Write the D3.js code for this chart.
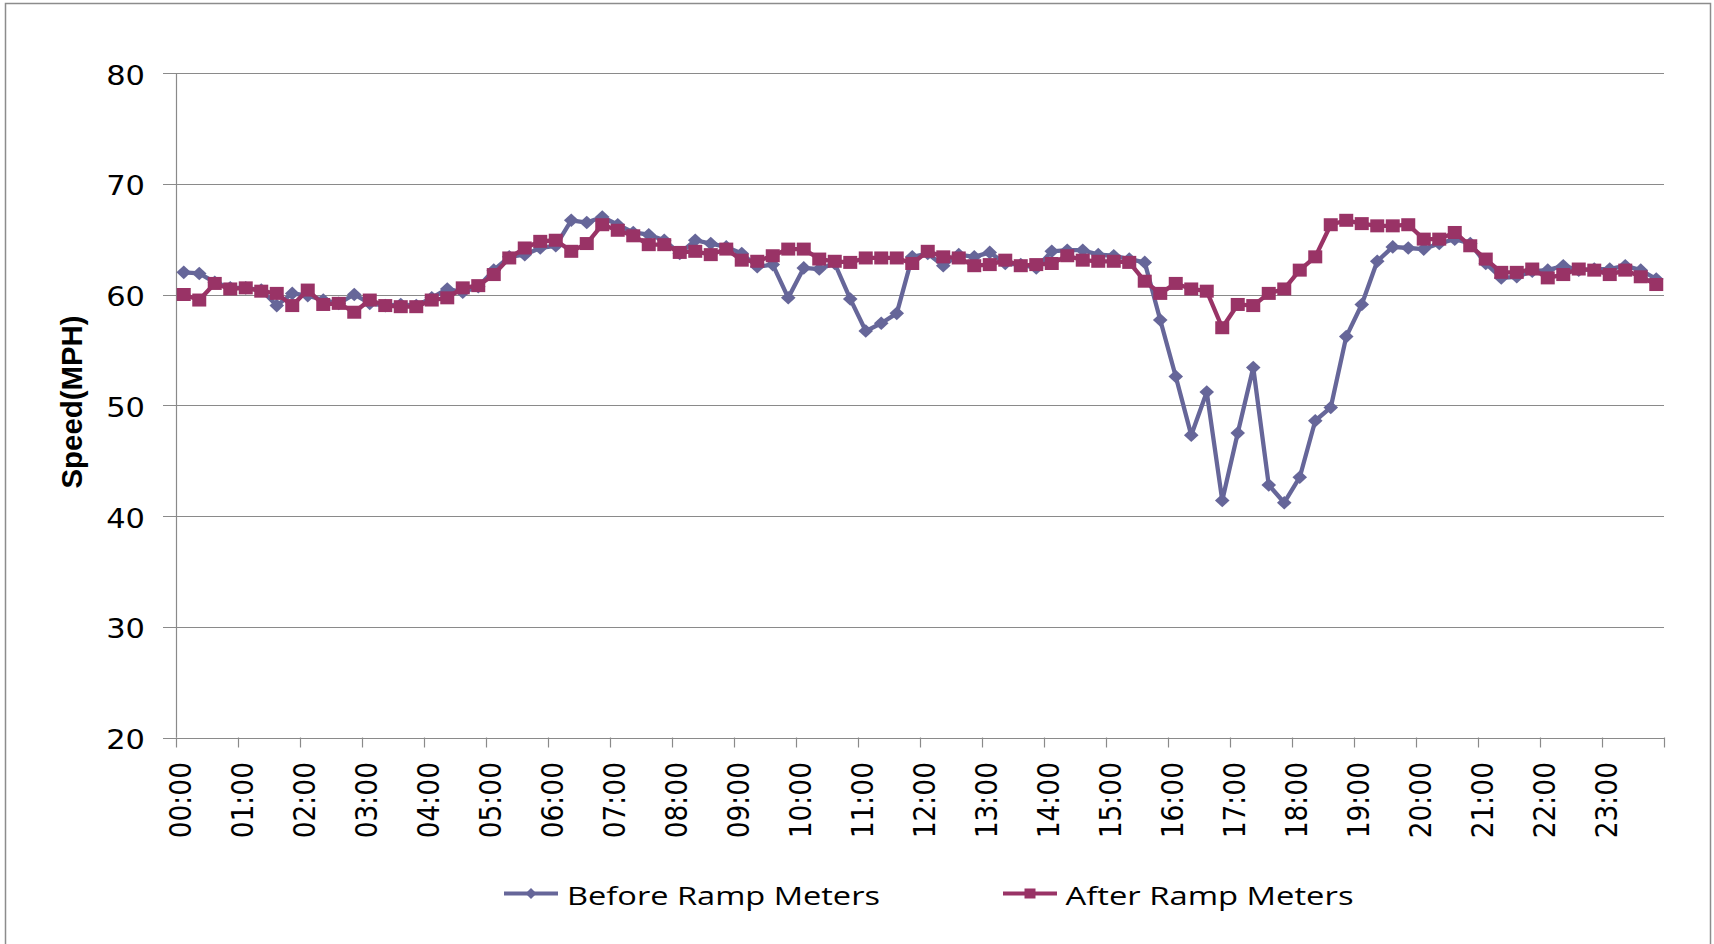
<!DOCTYPE html>
<html>
<head>
<meta charset="utf-8">
<script src="https://cdnjs.cloudflare.com/ajax/libs/d3/7.8.5/d3.min.js"></script>
<style>
  body { margin: 0; background: #fff; }
  svg { display: block; }
</style>
</head>
<body>
<div id="chart"></div>
<script>
var width = 1714;
var height = 944;

// hour labels shown on the axis, 15-minute categories built from them
var hourLabels = ['00','01','02','03','04','05','06','07','08','09','10','11',
                  '12','13','14','15','16','17','18','19','20','21','22','23'];
var quarterLabels = ['00','15','30','45'];
var yTicks = [20, 30, 40, 50, 60, 70, 80];

var beforeSpeed = [
  62.0, 61.9, 61.1, 60.6, 60.6, 60.4, 59.0, 60.1, 59.9, 59.5, 59.2, 60.0,
  59.2, 59.0, 59.1, 59.0, 59.7, 60.5, 60.2, 60.7, 62.2, 63.4, 63.6, 64.2,
  64.4, 66.7, 66.5, 67.0, 66.3, 65.6, 65.4, 64.9, 63.7, 64.9, 64.6, 64.3,
  63.7, 62.5, 62.7, 59.7, 62.4, 62.3, 62.8, 59.6, 56.7, 57.4, 58.3, 63.4,
  63.7, 62.6, 63.6, 63.4, 63.8, 62.8, 62.7, 62.4, 63.9, 64.0, 64.0, 63.6,
  63.5, 63.2, 62.9, 57.7, 52.6, 47.3, 51.2, 41.4, 47.5, 53.4, 42.8, 41.2,
  43.5, 48.6, 49.8, 56.2, 59.1, 63.0, 64.3, 64.2, 64.1, 64.6, 65.0, 64.6,
  62.8, 61.5, 61.6, 62.1, 62.2, 62.6, 62.2, 62.3, 62.3, 62.6, 62.2, 61.4
];

var afterSpeed = [
  60.0, 59.5, 61.0, 60.5, 60.6, 60.3, 60.1, 59.0, 60.4, 59.1, 59.2, 58.4,
  59.5, 59.0, 58.9, 58.9, 59.5, 59.7, 60.6, 60.8, 61.8, 63.3, 64.2, 64.8,
  64.9, 63.9, 64.6, 66.3, 65.8, 65.3, 64.5, 64.5, 63.8, 63.9, 63.6, 64.1,
  63.1, 63.0, 63.5, 64.1, 64.1, 63.2, 63.0, 62.9, 63.3, 63.3, 63.3, 62.8,
  63.9, 63.4, 63.3, 62.6, 62.7, 63.1, 62.6, 62.7, 62.8, 63.5, 63.1, 63.0,
  63.0, 62.9, 61.2, 60.1, 61.0, 60.5, 60.3, 57.0, 59.1, 59.0, 60.1, 60.5,
  62.2, 63.4, 66.3, 66.7, 66.4, 66.2, 66.2, 66.3, 65.0, 65.0, 65.6, 64.4,
  63.2, 62.0, 62.0, 62.3, 61.5, 61.8, 62.3, 62.2, 61.8, 62.2, 61.6, 60.9
];

var seriesNames = ['Before Ramp Meters', 'After Ramp Meters'];
var seriesColors = ['#666699', '#993366'];

var times = [];
hourLabels.forEach(function(h) {
  quarterLabels.forEach(function(q) { times.push(h + ':' + q); });
});

var plotLeft = 176, plotRight = 1664, plotTop = 73, plotBottom = 737.5;
var stretch = 1.15;   // the original picture is a little wide
var gridColor = '#8a8a8a';

var svg = d3.select('#chart')
  .append('svg')
  .attr('width', width)
  .attr('height', height);

// outer chart border
svg.append('rect')
  .attr('x', 5.5).attr('y', 3.5)
  .attr('width', 1705).attr('height', 960)
  .attr('fill', 'none')
  .attr('stroke', '#8c8c8c')
  .attr('stroke-width', 1.5);

var x = d3.scaleBand()
  .domain(times)
  .range([plotLeft, plotRight])
  .padding(0);

var y = d3.scaleLinear()
  .domain([20, 80])
  .range([plotBottom, plotTop]);

function cx(i) { return x(times[i]) + x.bandwidth() / 2; }

// horizontal gridlines + y tick marks
svg.selectAll('.grid')
  .data(yTicks)
  .enter()
  .append('line')
  .attr('class', 'grid')
  .attr('x1', plotLeft - 13)
  .attr('x2', plotRight)
  .attr('y1', function(d) { return Math.round(y(d)) + 0.5; })
  .attr('y2', function(d) { return Math.round(y(d)) + 0.5; })
  .attr('stroke', gridColor)
  .attr('stroke-width', 1.2);

// y axis line
svg.append('line')
  .attr('x1', plotLeft + 0.5).attr('x2', plotLeft + 0.5)
  .attr('y1', plotTop).attr('y2', plotBottom)
  .attr('stroke', gridColor)
  .attr('stroke-width', 1.2);

svg.selectAll('.ylabel')
  .data(yTicks)
  .enter()
  .append('text')
  .attr('class', 'ylabel')
  .attr('transform', function(d) {
    return 'translate(145,' + (y(d) + 2) + ') scale(' + stretch + ',1)';
  })
  .attr('text-anchor', 'end')
  .attr('dy', '0.36em')
  .style('font-family', 'DejaVu Sans, Verdana, sans-serif')
  .style('font-size', '26.5px')
  .style('fill', '#000')
  .text(function(d) { return d; });

// x tick marks every hour, plus the closing one
var tickXs = hourLabels.map(function(h) { return x(h + ':00'); });
tickXs.push(plotRight);

svg.selectAll('.xtick')
  .data(tickXs)
  .enter()
  .append('line')
  .attr('class', 'xtick')
  .attr('x1', function(d) { return Math.round(d) + 0.5; })
  .attr('x2', function(d) { return Math.round(d) + 0.5; })
  .attr('y1', plotBottom)
  .attr('y2', plotBottom + 10)
  .attr('stroke', gridColor)
  .attr('stroke-width', 1.2);

svg.selectAll('.xlabel')
  .data(hourLabels)
  .enter()
  .append('text')
  .attr('class', 'xlabel')
  .attr('transform', function(d) {
    return 'translate(' + (x(d + ':00') + 4.5) + ',762) scale(' + stretch + ',1) rotate(-90)';
  })
  .attr('text-anchor', 'end')
  .attr('dy', '0.36em')
  .style('font-family', 'DejaVu Sans, Verdana, sans-serif')
  .style('font-size', '26.5px')
  .style('fill', '#000')
  .text(function(d) { return d + ':00'; });

// y axis title
svg.append('text')
  .attr('transform', 'translate(72,402) scale(' + stretch + ',1) rotate(-90)')
  .attr('text-anchor', 'middle')
  .attr('dy', '0.35em')
  .attr('textLength', 173)
  .attr('lengthAdjust', 'spacingAndGlyphs')
  .style('font-family', 'Liberation Sans, Arial, sans-serif')
  .style('font-weight', 'bold')
  .style('font-size', '25px')
  .text('Speed(MPH)');

var line = d3.line()
  .x(function(d, i) { return cx(i); })
  .y(function(d) { return y(d); });

function diamond(w, h) {
  return 'M0,' + (-h) + 'L' + w + ',0L0,' + h + 'L' + (-w) + ',0Z';
}

// before: line + diamonds
svg.append('path')
  .datum(beforeSpeed)
  .attr('d', line)
  .attr('fill', 'none')
  .attr('stroke', seriesColors[0])
  .attr('stroke-width', 4.3)
  .attr('stroke-linejoin', 'round');

svg.selectAll('.before')
  .data(beforeSpeed)
  .enter()
  .append('path')
  .attr('class', 'before')
  .attr('d', diamond(7.3, 6.8))
  .attr('transform', function(d, i) { return 'translate(' + cx(i) + ',' + y(d) + ')'; })
  .attr('fill', seriesColors[0]);

// after: line + squares
svg.append('path')
  .datum(afterSpeed)
  .attr('d', line)
  .attr('fill', 'none')
  .attr('stroke', seriesColors[1])
  .attr('stroke-width', 4.3)
  .attr('stroke-linejoin', 'round');

svg.selectAll('.after')
  .data(afterSpeed)
  .enter()
  .append('rect')
  .attr('class', 'after')
  .attr('x', function(d, i) { return cx(i) - 7; })
  .attr('y', function(d) { return y(d) - 6.5; })
  .attr('width', 14)
  .attr('height', 13)
  .attr('fill', seriesColors[1]);

// legend
var legendItems = [
  { name: seriesNames[0], color: seriesColors[0], x0: 504, tx: 567, len: 313, marker: 'diamond' },
  { name: seriesNames[1], color: seriesColors[1], x0: 1003, tx: 1065.5, len: 288, marker: 'square' }
];
var legendY = 893.5;

var legend = svg.selectAll('.legend')
  .data(legendItems)
  .enter()
  .append('g')
  .attr('class', 'legend');

legend.append('line')
  .attr('x1', function(d) { return d.x0; })
  .attr('x2', function(d) { return d.x0 + 54; })
  .attr('y1', legendY)
  .attr('y2', legendY)
  .attr('stroke', function(d) { return d.color; })
  .attr('stroke-width', 4);

legend.filter(function(d) { return d.marker === 'diamond'; })
  .append('path')
  .attr('d', diamond(5.5, 5.5))
  .attr('transform', function(d) { return 'translate(' + (d.x0 + 27) + ',' + legendY + ')'; })
  .attr('fill', function(d) { return d.color; });

legend.filter(function(d) { return d.marker === 'square'; })
  .append('rect')
  .attr('x', function(d) { return d.x0 + 27 - 5.5; })
  .attr('y', legendY - 5)
  .attr('width', 11)
  .attr('height', 10)
  .attr('fill', function(d) { return d.color; });

legend.append('text')
  .attr('x', function(d) { return d.tx; })
  .attr('y', 904.5)
  .attr('textLength', function(d) { return d.len; })
  .attr('lengthAdjust', 'spacingAndGlyphs')
  .style('font-family', 'Open Sans, Liberation Sans, sans-serif')
  .style('font-size', '25.5px')
  .style('fill', '#000')
  .text(function(d) { return d.name; });
</script>
</body>
</html>
